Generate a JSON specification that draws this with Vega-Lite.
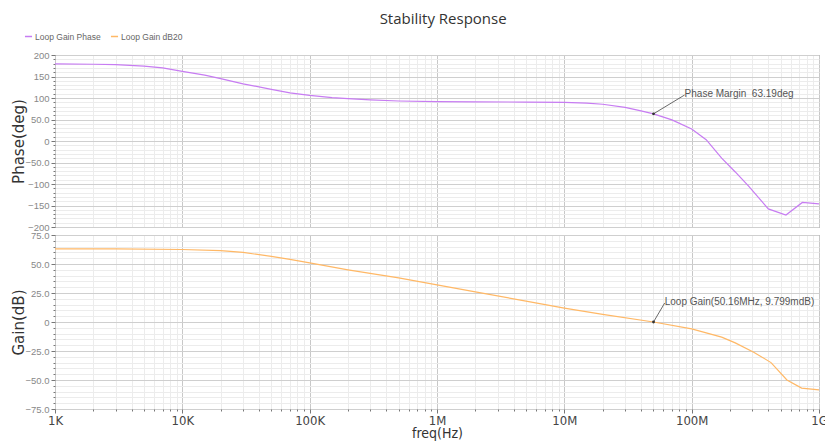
{
  "$schema": "https://vega.github.io/schema/vega-lite/v6.json",
  "autosize": {"type": "pad"},
  "padding": {"left": 10, "top": 12, "right": 0, "bottom": 0},
  "background": "white",
  "title": {"text": "Stability Response", "fontSize": 15, "font": "Open Sans", "fontWeight": "normal", "color": "#333", "anchor": "middle", "offset": 5, "dx": 24},
  "spacing": 8,
  "bounds": "flush",
  "config": {
    "view": {"stroke": "#7a7a7a", "strokeWidth": 1},
    "axis": {"labelFont": "Liberation Sans", "titleFont": "DejaVu Sans"}
  },
  "datasets": {
    "phase": [
      {"freq": 1000, "value": 179.5, "series": "Loop Gain Phase"},
      {"freq": 2000, "value": 178.5, "series": "Loop Gain Phase"},
      {"freq": 3000, "value": 177.5, "series": "Loop Gain Phase"},
      {"freq": 5000, "value": 174, "series": "Loop Gain Phase"},
      {"freq": 7000, "value": 170, "series": "Loop Gain Phase"},
      {"freq": 10000, "value": 162, "series": "Loop Gain Phase"},
      {"freq": 15000, "value": 153, "series": "Loop Gain Phase"},
      {"freq": 20000, "value": 145, "series": "Loop Gain Phase"},
      {"freq": 30000, "value": 133, "series": "Loop Gain Phase"},
      {"freq": 50000, "value": 120, "series": "Loop Gain Phase"},
      {"freq": 70000, "value": 112, "series": "Loop Gain Phase"},
      {"freq": 100000, "value": 106, "series": "Loop Gain Phase"},
      {"freq": 150000, "value": 101, "series": "Loop Gain Phase"},
      {"freq": 200000, "value": 98.5, "series": "Loop Gain Phase"},
      {"freq": 300000, "value": 95.5, "series": "Loop Gain Phase"},
      {"freq": 500000, "value": 93, "series": "Loop Gain Phase"},
      {"freq": 1000000, "value": 91.5, "series": "Loop Gain Phase"},
      {"freq": 2000000, "value": 91, "series": "Loop Gain Phase"},
      {"freq": 5000000, "value": 90.5, "series": "Loop Gain Phase"},
      {"freq": 10000000, "value": 90, "series": "Loop Gain Phase"},
      {"freq": 15000000, "value": 88, "series": "Loop Gain Phase"},
      {"freq": 20000000, "value": 85.5, "series": "Loop Gain Phase"},
      {"freq": 30000000, "value": 78, "series": "Loop Gain Phase"},
      {"freq": 40000000, "value": 70, "series": "Loop Gain Phase"},
      {"freq": 50160000, "value": 63.19, "series": "Loop Gain Phase"},
      {"freq": 70000000, "value": 49, "series": "Loop Gain Phase"},
      {"freq": 100000000, "value": 28, "series": "Loop Gain Phase"},
      {"freq": 130000000, "value": 3, "series": "Loop Gain Phase"},
      {"freq": 172000000, "value": -40, "series": "Loop Gain Phase"},
      {"freq": 220000000, "value": -72, "series": "Loop Gain Phase"},
      {"freq": 280000000, "value": -105, "series": "Loop Gain Phase"},
      {"freq": 350000000, "value": -138, "series": "Loop Gain Phase"},
      {"freq": 400000000, "value": -158, "series": "Loop Gain Phase"},
      {"freq": 550000000, "value": -172, "series": "Loop Gain Phase"},
      {"freq": 740000000, "value": -143, "series": "Loop Gain Phase"},
      {"freq": 1000000000, "value": -146, "series": "Loop Gain Phase"}
    ],
    "gain": [
      {"freq": 1000, "value": 63, "series": "Loop Gain dB20"},
      {"freq": 3000, "value": 63, "series": "Loop Gain dB20"},
      {"freq": 10000, "value": 62.5, "series": "Loop Gain dB20"},
      {"freq": 20000, "value": 61.5, "series": "Loop Gain dB20"},
      {"freq": 30000, "value": 60, "series": "Loop Gain dB20"},
      {"freq": 50000, "value": 56.5, "series": "Loop Gain dB20"},
      {"freq": 70000, "value": 54, "series": "Loop Gain dB20"},
      {"freq": 100000, "value": 51, "series": "Loop Gain dB20"},
      {"freq": 200000, "value": 45, "series": "Loop Gain dB20"},
      {"freq": 500000, "value": 38, "series": "Loop Gain dB20"},
      {"freq": 1000000, "value": 32, "series": "Loop Gain dB20"},
      {"freq": 2000000, "value": 26, "series": "Loop Gain dB20"},
      {"freq": 5000000, "value": 18, "series": "Loop Gain dB20"},
      {"freq": 10000000, "value": 12, "series": "Loop Gain dB20"},
      {"freq": 20000000, "value": 6.5, "series": "Loop Gain dB20"},
      {"freq": 50160000, "value": 0.01, "series": "Loop Gain dB20"},
      {"freq": 100000000, "value": -6, "series": "Loop Gain dB20"},
      {"freq": 172000000, "value": -13, "series": "Loop Gain dB20"},
      {"freq": 220000000, "value": -18, "series": "Loop Gain dB20"},
      {"freq": 307000000, "value": -26, "series": "Loop Gain dB20"},
      {"freq": 420000000, "value": -35, "series": "Loop Gain dB20"},
      {"freq": 560000000, "value": -50, "series": "Loop Gain dB20"},
      {"freq": 730000000, "value": -57, "series": "Loop Gain dB20"},
      {"freq": 1000000000, "value": -58.5, "series": "Loop Gain dB20"}
    ],
    "annPhase": [
      {"freq": 50160000, "value": 63.19, "tfreq": 88000000, "tvalue": 107, "label": "Phase Margin\u00a0 63.19deg"}
    ],
    "annGain": [
      {"freq": 50160000, "value": 0.01, "tfreq": 61400000, "tvalue": 16.4, "label": "Loop Gain(50.16MHz, 9.799mdB)"}
    ]
  },
  "vconcat": [
    {
      "width": 764,
      "height": 172,
      "resolve": {"axis": {"x": "independent", "y": "independent"}},
      "layer": [
        {
          "data": {"name": "phase"},
          "mark": {"type": "line", "strokeWidth": 1.2},
          "encoding": {
            "x": {"field": "freq", "type": "quantitative", "scale": {"type": "log", "domain": [1000, 1000000000], "nice": false},
              "axis": {"orient": "bottom", "grid": true, "gridColor": "#ececec", "labels": false, "ticks": false, "domain": false, "title": null,
                "values": [2000,3000,4000,5000,6000,7000,8000,9000,20000,30000,40000,50000,60000,70000,80000,90000,200000,300000,400000,500000,600000,700000,800000,900000,2000000,3000000,4000000,5000000,6000000,7000000,8000000,9000000,20000000,30000000,40000000,50000000,60000000,70000000,80000000,90000000,200000000,300000000,400000000,500000000,600000000,700000000,800000000,900000000]}},
            "y": {"field": "value", "type": "quantitative", "scale": {"domain": [-200, 200], "nice": false},
              "axis": {"orient": "left", "grid": true, "gridColor": "#ececec", "labels": false, "ticks": true, "tickSize": 2, "tickColor": "#777", "domain": false, "title": null,
                "values": [-190,-180,-170,-160,-140,-130,-120,-110,-90,-80,-70,-60,-40,-30,-20,-10,10,20,30,40,60,70,80,90,110,120,130,140,160,170,180,190]}},
            "color": {"field": "series", "type": "nominal",
              "scale": {"domain": ["Loop Gain Phase", "Loop Gain dB20"], "range": ["#c77cf2", "#ffb866"]},
              "legend": {"orient": "none", "legendX": -31, "legendY": -23, "direction": "horizontal", "title": null,
                "symbolType": "stroke", "symbolSize": 50, "symbolStrokeWidth": 1.5, "labelFont": "Liberation Sans", "labelFontSize": 8.5,
                "labelColor": "#666", "labelOffset": 2, "columnPadding": 6, "padding": 0}}
          }
        },
        {
          "data": {"name": "annPhase"},
          "mark": {"type": "rule", "color": "#444", "strokeWidth": 0.8},
          "encoding": {
            "x": {"field": "freq", "type": "quantitative",
              "axis": {"orient": "bottom", "grid": true, "gridColor": "#c8c8c8", "labels": false, "ticks": false, "domain": false, "title": null,
                "values": [1000, 10000, 100000, 1000000, 10000000, 100000000, 1000000000]}},
            "y": {"field": "value", "type": "quantitative",
              "axis": {"orient": "left", "grid": true, "gridColor": "#cfcfcf", "ticks": true, "tickSize": 4, "tickColor": "#777", "domain": false,
                "values": [-200, -150, -100, -50, 0, 50, 100, 150, 200],
                "labelExpr": "datum.value == 0 ? '0' : format(datum.value, '.3r')",
                "labelFontSize": 9.5, "labelColor": "#888", "labelPadding": 2,
                "title": "Phase(deg)", "titleFontSize": 15, "titleFontWeight": "normal", "titleColor": "#333",
                "titleX": -29, "titleY": 86, "titleAngle": -90, "titleBaseline": "bottom", "titleAlign": "center"}},
            "x2": {"field": "tfreq"},
            "y2": {"field": "tvalue"}
          }
        },
        {
          "data": {"name": "annPhase"},
          "mark": {"type": "point", "filled": true, "color": "#333", "size": 8, "opacity": 1},
          "encoding": {
            "x": {"field": "freq", "type": "quantitative", "axis": null},
            "y": {"field": "value", "type": "quantitative", "axis": null}
          }
        },
        {
          "data": {"name": "annPhase"},
          "mark": {"type": "text", "align": "left", "baseline": "middle", "font": "Liberation Sans", "fontSize": 10, "color": "#555", "dy": -1},
          "encoding": {
            "x": {"field": "tfreq", "type": "quantitative", "axis": null},
            "y": {"field": "tvalue", "type": "quantitative", "axis": null},
            "text": {"field": "label"}
          }
        }
      ]
    },
    {
      "width": 764,
      "height": 174,
      "resolve": {"axis": {"x": "independent", "y": "independent"}},
      "layer": [
        {
          "data": {"name": "gain"},
          "mark": {"type": "line", "strokeWidth": 1.2},
          "encoding": {
            "x": {"field": "freq", "type": "quantitative", "scale": {"type": "log", "domain": [1000, 1000000000], "nice": false},
              "axis": {"orient": "bottom", "grid": true, "gridColor": "#ececec", "labels": false, "ticks": true, "tickSize": 2, "tickColor": "#777", "domain": false, "title": null,
                "values": [2000,3000,4000,5000,6000,7000,8000,9000,20000,30000,40000,50000,60000,70000,80000,90000,200000,300000,400000,500000,600000,700000,800000,900000,2000000,3000000,4000000,5000000,6000000,7000000,8000000,9000000,20000000,30000000,40000000,50000000,60000000,70000000,80000000,90000000,200000000,300000000,400000000,500000000,600000000,700000000,800000000,900000000]}},
            "y": {"field": "value", "type": "quantitative", "scale": {"domain": [-75, 75], "nice": false},
              "axis": {"orient": "left", "grid": true, "gridColor": "#ececec", "labels": false, "ticks": true, "tickSize": 2, "tickColor": "#777", "domain": false, "title": null,
                "values": [-70,-65,-60,-55,-45,-40,-35,-30,-20,-15,-10,-5,5,10,15,20,30,35,40,45,55,60,65,70]}},
            "color": {"field": "series", "type": "nominal",
              "scale": {"domain": ["Loop Gain Phase", "Loop Gain dB20"], "range": ["#c77cf2", "#ffb866"]},
              "legend": null}
          }
        },
        {
          "data": {"name": "annGain"},
          "mark": {"type": "rule", "color": "#444", "strokeWidth": 0.8},
          "encoding": {
            "x": {"field": "freq", "type": "quantitative",
              "axis": {"orient": "bottom", "grid": true, "gridColor": "#c8c8c8", "ticks": true, "tickSize": 4, "tickColor": "#777", "domain": false,
                "values": [1000, 10000, 100000, 1000000, 10000000, 100000000, 1000000000],
                "labelExpr": "replace(format(datum.value, '~s'), 'k', 'K')",
                "labelFlush": false, "labelOverlap": false,
                "labelFont": "DejaVu Sans Condensed, Liberation Sans", "labelFontSize": 13, "labelColor": "#444", "labelPadding": 1,
                "title": "freq(Hz)", "titleFont": "DejaVu Sans Condensed, Liberation Sans", "titleFontSize": 14, "titleFontWeight": "normal", "titleColor": "#333", "titlePadding": -1}},
            "y": {"field": "value", "type": "quantitative",
              "axis": {"orient": "left", "grid": true, "gridColor": "#cfcfcf", "ticks": true, "tickSize": 4, "tickColor": "#777", "domain": false,
                "values": [-75, -50, -25, 0, 25, 50, 75],
                "labelExpr": "datum.value == 0 ? '0' : format(datum.value, '.3r')",
                "labelFontSize": 9.5, "labelColor": "#888", "labelPadding": 2,
                "title": "Gain(dB)", "titleFontSize": 15, "titleFontWeight": "normal", "titleColor": "#333",
                "titleX": -29, "titleY": 87, "titleAngle": -90, "titleBaseline": "bottom", "titleAlign": "center"}},
            "x2": {"field": "tfreq"},
            "y2": {"field": "tvalue"}
          }
        },
        {
          "data": {"name": "annGain"},
          "mark": {"type": "point", "filled": true, "color": "#333", "size": 8, "opacity": 1},
          "encoding": {
            "x": {"field": "freq", "type": "quantitative", "axis": null},
            "y": {"field": "value", "type": "quantitative", "axis": null}
          }
        },
        {
          "data": {"name": "annGain"},
          "mark": {"type": "text", "align": "left", "baseline": "middle", "font": "Liberation Sans", "fontSize": 10, "color": "#555", "dy": -1},
          "encoding": {
            "x": {"field": "tfreq", "type": "quantitative", "axis": null},
            "y": {"field": "tvalue", "type": "quantitative", "axis": null},
            "text": {"field": "label"}
          }
        }
      ]
    }
  ]
}
